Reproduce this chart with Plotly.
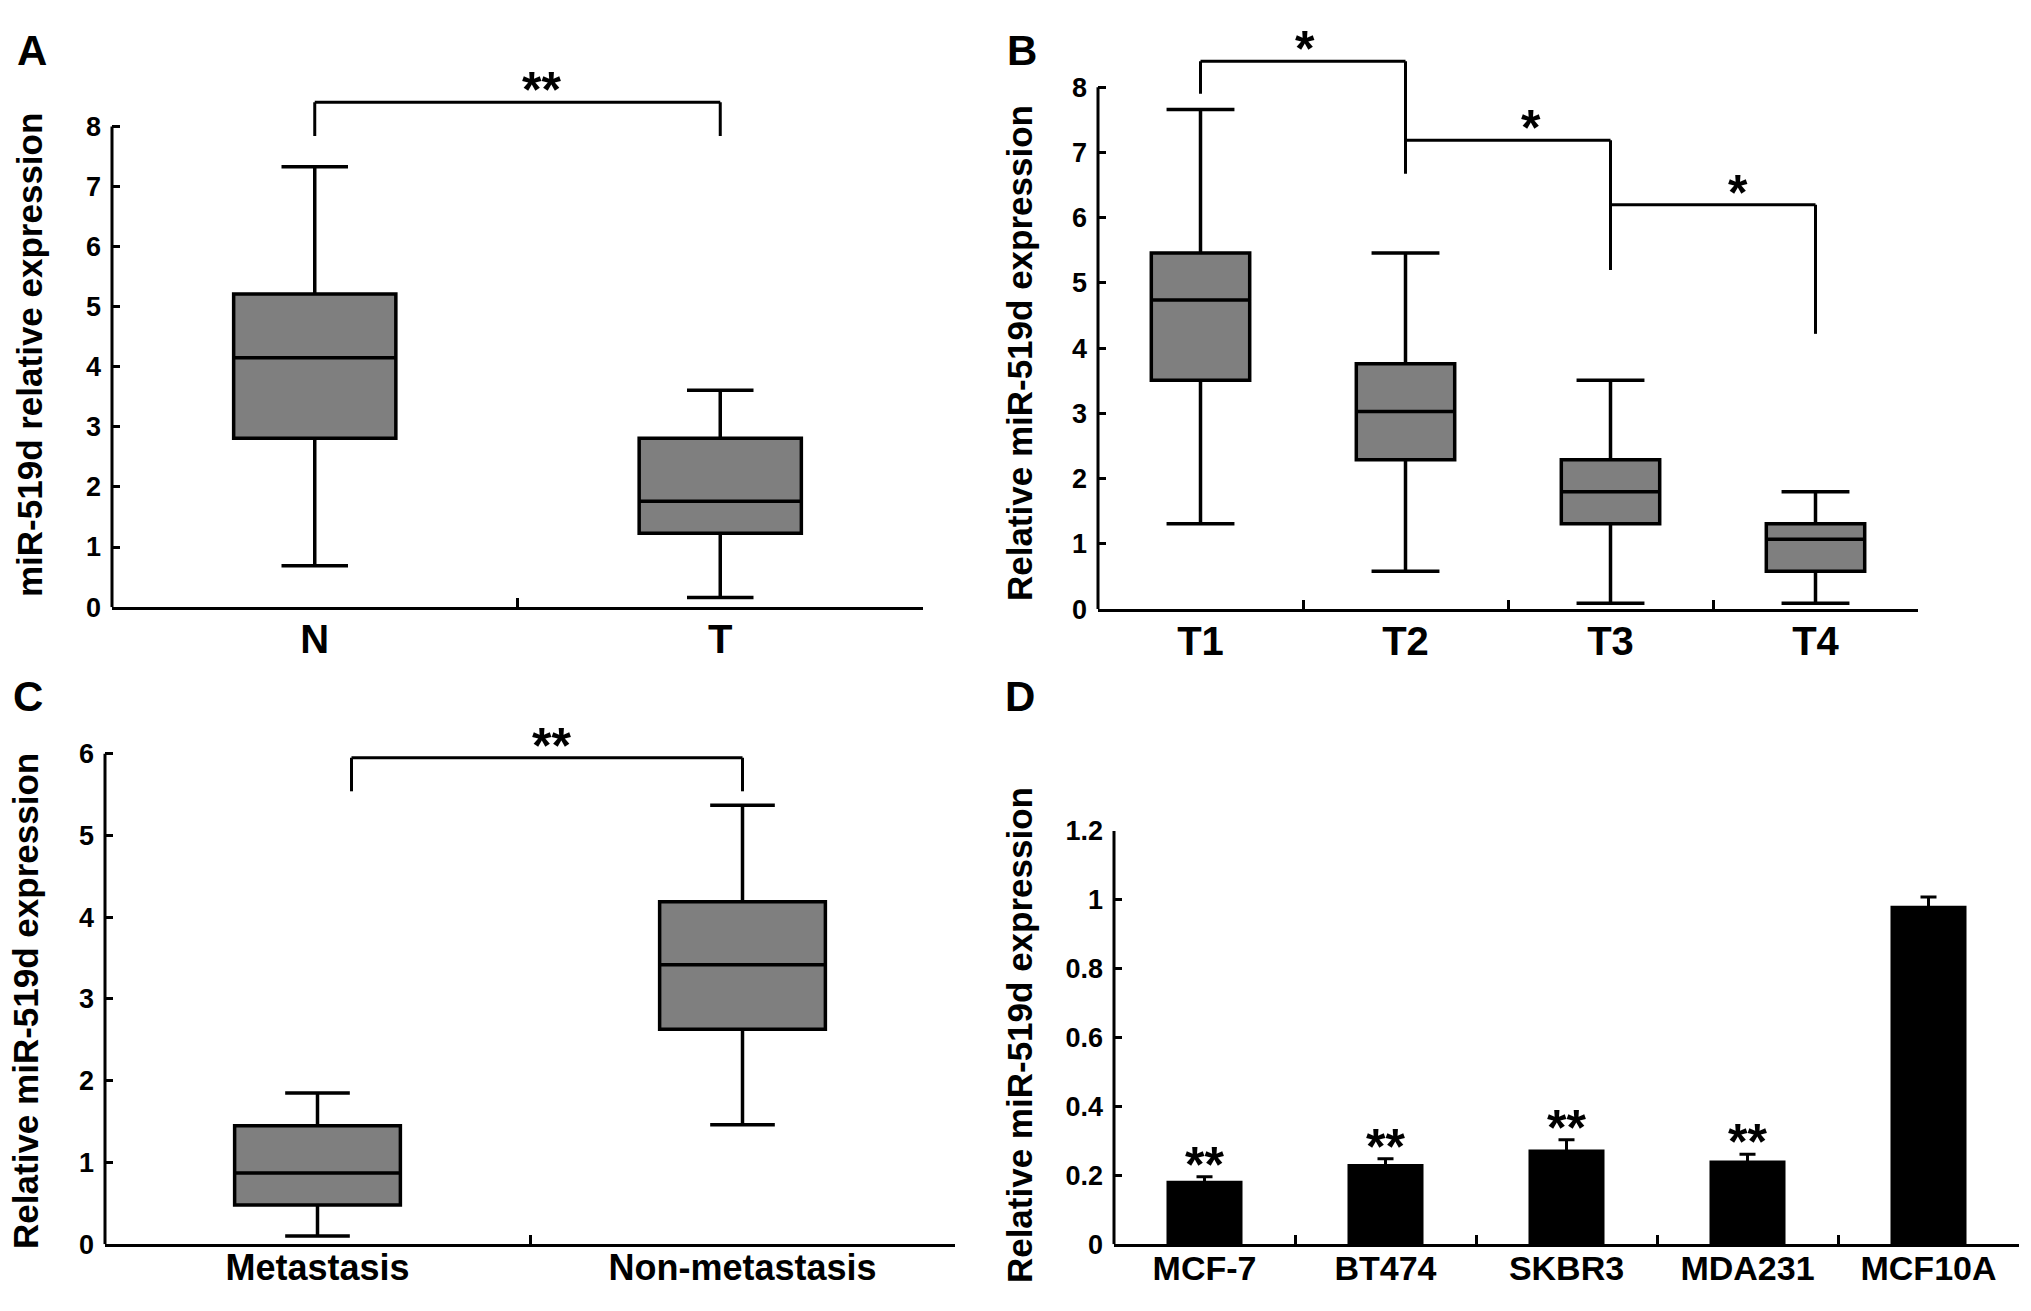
import plotly.graph_objects as go
from plotly.subplots import make_subplots

FONT = "Liberation Sans, Arial, sans-serif"
W, H = 2031, 1311

# --- Panel A: normal vs tumour ---
a_groups = ["N", "T"]
a_lower = [0.69, 0.16]
a_q1 = [2.81, 1.23]
a_median = [4.15, 1.76]
a_q3 = [5.21, 2.81]
a_upper = [7.33, 3.61]

# --- Panel B: T stage ---
b_groups = ["T1", "T2", "T3", "T4"]
b_lower = [1.31, 0.58, 0.09, 0.09]
b_q1 = [3.51, 2.29, 1.31, 0.58]
b_median = [4.74, 3.03, 1.80, 1.07]
b_q3 = [5.46, 3.76, 2.29, 1.31]
b_upper = [7.66, 5.46, 3.51, 1.80]

# --- Panel C: metastasis ---
c_groups = ["Metastasis", "Non-metastasis"]
c_lower = [0.10, 1.46]
c_q1 = [0.48, 2.63]
c_median = [0.87, 3.42]
c_q3 = [1.45, 4.19]
c_upper = [1.85, 5.37]

# --- Panel D: cell lines ---
d_lines = ["MCF-7", "BT474", "SKBR3", "MDA231", "MCF10A"]
d_mean = [0.184, 0.233, 0.275, 0.243, 0.983]
d_err = [0.012, 0.015, 0.028, 0.018, 0.025]
d_marks = ["**", "**", "**", "**", ""]

# significance brackets: (left, right, top, left leg end, right leg end, star x, star text)
a_brackets = [(0, 1, 8.40, 7.84, 7.84, 0.56, "**")]
b_brackets = [
    (0, 1, 8.40, 7.90, 6.68, 0.51, "*"),
    (1, 2, 7.19, 6.68, 5.20, 1.61, "*"),
    (2, 3, 6.20, 5.20, 4.22, 2.62, "*"),
]
c_brackets = [(0.08, 1, 5.95, 5.54, 5.54, 0.55, "**")]


def fx(px):
    return px / W


def fy(px):
    return 1 - px / H


STAR_FONT = dict(family=FONT, size=50, color="black", weight="bold")


def add_boxes(fig, row, col, groups, lower, q1, med, q3, upper, width, whisker):
    fig.add_trace(
        go.Box(
            x=groups, lowerfence=lower, q1=q1, median=med, q3=q3, upperfence=upper,
            fillcolor="#7f7f7f", line=dict(color="black", width=3.5),
            width=width, whiskerwidth=whisker, boxpoints=False, showlegend=False,
        ),
        row=row, col=col,
    )


def add_brackets(fig, xr, yr, brackets):
    for x0, x1, top, l_end, r_end, sx, txt in brackets:
        for seg in [(x0, l_end, x0, top), (x0, top, x1, top), (x1, top, x1, r_end)]:
            fig.add_shape(type="line", xref=xr, yref=yr,
                          x0=seg[0], y0=seg[1], x1=seg[2], y1=seg[3],
                          line=dict(color="black", width=3))
        fig.add_annotation(x=sx, y=top, xref=xr, yref=yr, text=txt, showarrow=False,
                           yanchor="middle", yshift=12, font=STAR_FONT)


fig = make_subplots(rows=2, cols=2)

add_boxes(fig, 1, 1, a_groups, a_lower, a_q1, a_median, a_q3, a_upper, 0.40, 0.41)
add_boxes(fig, 1, 2, b_groups, b_lower, b_q1, b_median, b_q3, b_upper, 0.48, 0.69)
add_boxes(fig, 2, 1, c_groups, c_lower, c_q1, c_median, c_q3, c_upper, 0.39, 0.39)

fig.add_trace(
    go.Bar(
        x=d_lines, y=d_mean, width=0.42, marker=dict(color="black", line=dict(width=0)),
        error_y=dict(type="data", array=d_err, color="black", thickness=3, width=8),
        showlegend=False,
    ),
    row=2, col=2,
)
for name, m, e, s in zip(d_lines, d_mean, d_err, d_marks):
    if s:
        fig.add_annotation(x=name, y=m + e, xref="x4", yref="y4", text=s, showarrow=False,
                           yanchor="middle", yshift=12, font=STAR_FONT)

add_brackets(fig, "x", "y", a_brackets)
add_brackets(fig, "x2", "y2", b_brackets)
add_brackets(fig, "x3", "y3", c_brackets)

# --- axes (pixel boxes) ---
panels = [
    # xaxis, yaxis, n cats, left, right, y px of 0, y px of top tick, y top tick, range top, dtick, x font, standoff
    ("xaxis", "yaxis", 2, 112, 923, 606, 114, 8, 8.6, 1, 40, -5),
    ("xaxis2", "yaxis2", 4, 1098, 1918, 608, 74, 8, 8.55, 1, 40, -5),
    ("xaxis3", "yaxis3", 2, 105, 955, 1258, 756, 6, 6.1, 1, 36, -10),
    ("xaxis4", "yaxis4", 5, 1114, 2019, 1258, 835, 1.2, 1.2, 0.2, 34, -8),
]
for i, (xa, ya, n, left, right, y0px, ytpx, ytop, rtop, dt, xfs, sto) in enumerate(panels):
    per_unit = (y0px - ytpx) / ytop
    top_px = y0px - rtop * per_unit
    fig.update_layout({
        xa: dict(
            domain=[fx(left), fx(right)], type="category", range=[-0.5, n - 0.5],
            showline=True, linecolor="black", linewidth=3,
            ticks="inside", tickson="boundaries", ticklen=9, tickwidth=3, tickcolor="black",
            tickfont=dict(family=FONT, size=xfs, color="black", weight="bold"),
            ticklabelstandoff=sto, showgrid=False, zeroline=False,
        ),
        ya: dict(
            domain=[fy(y0px), fy(top_px)], range=[0, rtop], dtick=dt, tick0=0,
            showline=False, ticks="inside", ticklen=8, tickwidth=3, tickcolor="black",
            tickfont=dict(family=FONT, size=27, color="black", weight="bold"),
            ticklabelstandoff=10, showgrid=False, zeroline=False,
        ),
    })
    xr = "x" if i == 0 else "x%d" % (i + 1)
    yr = "y" if i == 0 else "y%d" % (i + 1)
    # y axis line stops at the top tick
    fig.add_shape(type="line", xref=xr + " domain", yref=yr, x0=0, x1=0, y0=0, y1=ytop,
                  line=dict(color="black", width=3))

# --- axis titles and panel letters ---
titles = [
    ("miR-519d relative expression", 29, 348),
    ("Relative miR-519d expression", 1019, 346),
    ("Relative miR-519d expression", 26, 1009),
    ("Relative miR-519d expression", 1019, 1044),
]
for txt, x, y in titles:
    fig.add_annotation(x=fx(x), y=fy(y), xref="paper", yref="paper", text=txt, textangle=-90,
                       showarrow=False, xanchor="center", yanchor="middle",
                       font=dict(family=FONT, size=35, color="black", weight="bold"))

letters = [("A", 32, 36), ("B", 1022, 36), ("C", 28, 697), ("D", 1020, 697)]
for txt, x, y in letters:
    fig.add_annotation(x=fx(x), y=fy(y), xref="paper", yref="paper", text=txt, showarrow=False,
                       xanchor="center", yanchor="middle",
                       font=dict(family=FONT, size=42, color="black", weight="bold"))

fig.update_layout(
    width=W, height=H,
    margin=dict(l=0, r=0, t=0, b=0),
    paper_bgcolor="white", plot_bgcolor="white",
    showlegend=False,
)

# drop the page's default body margin so the figure sits at the window corner
fig.write_html("out.html", config={"displayModeBar": False},
               post_script="document.body.style.margin = '0';")
